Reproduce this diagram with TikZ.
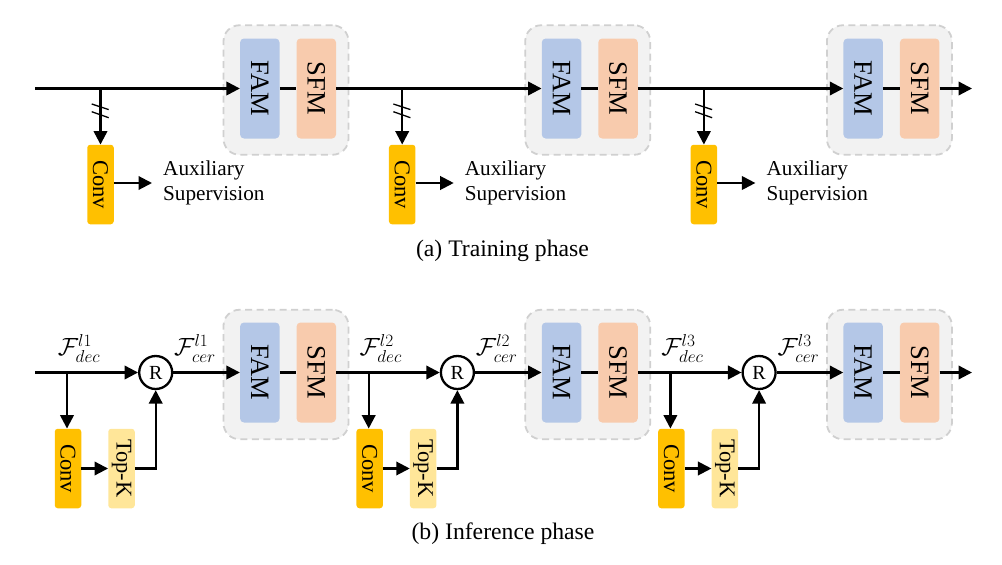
\documentclass[tikz,border=0pt]{standalone}
\usepackage{fontspec}
\setmainfont{Liberation Serif}
\usetikzlibrary{arrows.meta,calc}
\definecolor{famc}{HTML}{B4C7E7}
\definecolor{sfmc}{HTML}{F8CBAD}
\definecolor{convc}{HTML}{FFC000}
\definecolor{topc}{HTML}{FFE699}
\definecolor{groupc}{HTML}{F2F2F2}
\definecolor{dashc}{HTML}{D0D0D0}
\tikzset{
  x=1pt,y=-1pt,
  flow/.style={line width=2.3pt,black,-{Triangle[length=13.5pt,width=13.5pt]}},
  plain/.style={line width=2.3pt,black},
  thinflow/.style={line width=2.1pt,black,-{Triangle[length=13.5pt,width=13.5pt]}},
  slashmark/.style={line width=1.3pt,black},
  groupbox/.style={draw=dashc,fill=groupc,line width=1.8pt,dash pattern=on 7pt off 4.5pt,rounded corners=16pt,minimum width=125pt,minimum height=129.5pt,inner sep=0pt},
  blockbox/.style={rounded corners=4pt,inner sep=0pt,font=\fontsize{26.5}{28}\selectfont,rotate=-90,minimum width=100pt,minimum height=39.5pt},
  smallbox/.style={rounded corners=3pt,inner sep=0pt,minimum width=79.5pt,minimum height=26.5pt,font=\fontsize{22.5}{26}\selectfont,rotate=-90},
  auxtext/.style={font=\fontsize{21.2}{25}\selectfont,align=left,anchor=north west,inner sep=0pt},
  captext/.style={font=\fontsize{23.7}{28}\selectfont,inner sep=0pt},
  rnode/.style={circle,draw=black,fill=white,line width=2.3pt,minimum size=33pt,inner sep=0pt,font=\fontsize{20}{22}\selectfont},
  mlabel/.style={inner sep=0pt,font=\fontsize{24.5}{28}\selectfont},
}
\begin{document}
\begin{tikzpicture}
\useasboundingbox (0,0) rectangle (1002,565);
% ---- top row ----
\foreach \i/\dx in {1/0,2/301.7,3/603.4}{
  \node[groupbox] (ga\i) at (286+\dx,90) {};
  \node[blockbox,fill=famc] (fa\i) at (259.8+\dx,88.5) {FAM};
  \node[blockbox,fill=sfmc] (sa\i) at (316.3+\dx,88.5) {SFM};
  \node[smallbox,fill=convc] (ca\i) at (100.5+\dx,184.5) {Conv};
  \coordinate (ja\i) at (100.5+\dx,88.5);
  \coordinate (ea\i) at (152+\dx,183);
  \node[auxtext] (ta\i) at (163+\dx,161) {Auxiliary\\[-0.5pt]Supervision};
  \draw[plain] (fa\i) -- (sa\i);
  \draw[flow] (ja\i) -- (ca\i);
  \draw[thinflow] (ca\i.north |- ea\i) -- (ea\i);
  \coordinate (sl\i) at (100.2+\dx,110.7);
  \draw[slashmark] ($(sl\i)+(-8.5,-6.7)$) -- ($(sl\i)+(8.5,-1.1)$);
  \draw[slashmark] ($(sl\i)+(-8.5,1)$) -- ($(sl\i)+(8.5,7)$);
}
\coordinate (sa0) at (35,88.5);
\draw[flow] (sa0) -- (fa1);
\draw[flow] (sa1) -- (fa2);
\draw[flow] (sa2) -- (fa3);
\coordinate (enda) at (972,88.5);
\draw[flow] (sa3) -- (enda);
\node[captext] (capa) at (502.5,250.5) {(a) Training phase};
% ---- bottom row ----
\foreach \i/\dx/\l in {1/0/1,2/301.7/2,3/603.4/3}{
  \node[groupbox] (gb\i) at (286+\dx,374.5) {};
  \node[blockbox,fill=famc] (fb\i) at (259.8+\dx,372.5) {FAM};
  \node[blockbox,fill=sfmc] (sb\i) at (316.3+\dx,372.5) {SFM};
  \node[smallbox,fill=convc] (cb\i) at (68+\dx,468.5) {Conv};
  \node[smallbox,fill=topc] (kb\i) at (121.5+\dx,468.5) {Top-K};
  \node[rnode] (rb\i) at (155.7+\dx,372.5) {R};
  \coordinate (jb\i) at (67+\dx,372.5);
  \node[mlabel] (ld\i) at (79+\dx,348.5) {$\mathcal{F}_{dec}^{l\l}$};
  \node[mlabel] (lc\i) at (195+\dx,348.5) {$\mathcal{F}_{cer}^{l\l}$};
  \draw[plain] (fb\i) -- (sb\i);
  \draw[flow] (jb\i) -- (jb\i |- cb\i.west);
  \draw[thinflow] (cb\i) -- (kb\i);
  \draw[flow] (kb\i.north) -| (rb\i.south);
  \draw[flow] (rb\i) -- (fb\i);
}
\coordinate (sb0) at (35,372.5);
\draw[flow] (sb0) -- (rb1);
\draw[flow] (sb1) -- (rb2);
\draw[flow] (sb2) -- (rb3);
\coordinate (endb) at (972,372.5);
\draw[flow] (sb3) -- (endb);
\node[captext] (capb) at (503,533.5) {(b) Inference phase};
\end{tikzpicture}
\end{document}
